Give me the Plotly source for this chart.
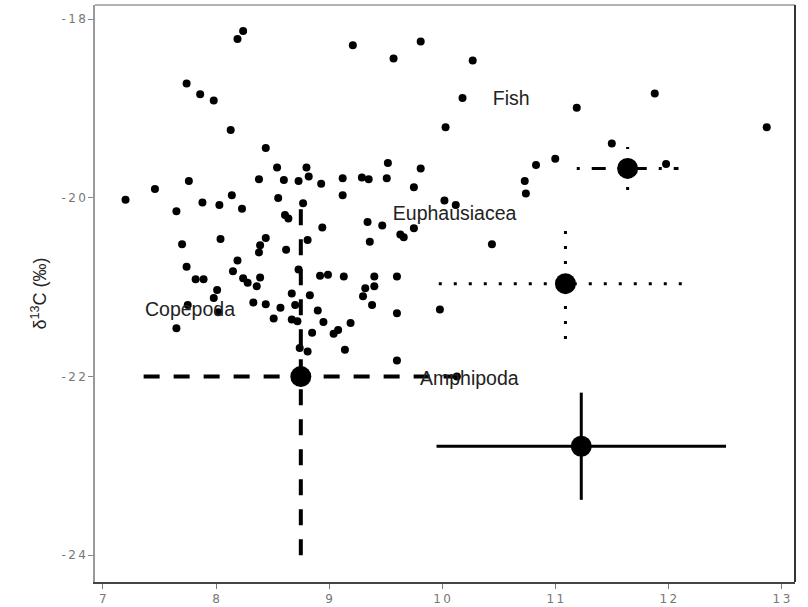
import plotly.graph_objects as go

# individual samples (d15N, d13C)
pts_x = [8.19, 8.24, 9.21, 9.57, 9.81, 10.27, 7.74, 7.86, 7.98, 8.13, 8.44, 10.18, 11.19, 11.88, 12.87,
         10.03, 11.50, 11.00, 10.83, 9.81, 9.75, 10.73, 10.74, 10.02, 10.12, 9.75, 9.63, 9.66, 10.44, 11.98,
         7.20, 7.46, 7.76, 7.65, 7.88, 8.03, 8.14, 8.23, 8.38, 8.54, 8.60, 8.73, 8.80, 8.82, 8.93,
         9.12, 9.12, 9.29, 9.35, 9.51, 9.52, 8.55, 8.77, 8.61, 8.64, 8.94, 9.34, 9.47, 9.36, 7.70,
         8.04, 8.44, 8.39, 8.38, 8.62, 8.81, 8.19, 7.74, 7.82, 7.89, 8.15, 8.24, 8.28, 8.36, 8.39,
         8.01, 7.98, 7.75, 8.02, 7.65, 8.33, 8.44, 8.51, 8.57, 8.67, 8.70, 8.67, 8.72, 8.74, 8.81,
         8.73, 8.92, 8.99, 9.13, 9.40, 9.60, 9.32, 9.40, 9.30, 9.38, 9.60, 9.98, 8.83, 8.90, 8.95,
         9.19, 8.85, 9.04, 9.08, 9.14, 9.60, 10.13]
pts_y = [-18.22, -18.13, -18.29, -18.44, -18.25, -18.46, -18.72, -18.84, -18.91, -19.24, -19.44, -18.88, -18.99, -18.83, -19.21,
         -19.21, -19.39, -19.56, -19.63, -19.67, -19.88, -19.81, -19.95, -20.03, -20.08, -20.34, -20.41, -20.44, -20.52, -19.62,
         -20.02, -19.90, -19.81, -20.15, -20.05, -20.08, -19.97, -20.12, -19.79, -19.66, -19.80, -19.81, -19.66, -19.76, -19.84,
         -19.78, -19.97, -19.77, -19.79, -19.78, -19.61, -20.00, -20.06, -20.19, -20.23, -20.33, -20.27, -20.31, -20.49, -20.52,
         -20.46, -20.45, -20.53, -20.61, -20.58, -20.47, -20.70, -20.77, -20.91, -20.91, -20.82, -20.90, -20.95, -20.99, -20.89,
         -21.03, -21.12, -21.20, -21.28, -21.46, -21.17, -21.19, -21.35, -21.23, -21.07, -21.20, -21.36, -21.38, -21.68, -21.72,
         -20.80, -20.87, -20.86, -20.88, -20.88, -20.88, -21.01, -20.99, -21.10, -21.20, -21.29, -21.25, -21.09, -21.26, -21.39,
         -21.40, -21.51, -21.52, -21.48, -21.70, -21.82, -22.00]

# group means and spreads
mean_x = [11.64, 11.09, 8.75, 11.23]
mean_y = [-19.67, -20.96, -22.00, -22.78]
err_x = [0.45, 1.12, 1.39, 1.28]
err_y = [0.24, 0.62, 2.00, 0.60]
bar_dash = ["3px,12px,14px,12px", "3px,12px", "16px,14px", "solid"]
bar_width = [3, 3, 4, 3]

# group labels
label_text = ["Fish", "Euphausiacea", "Copepoda", "Amphipoda"]
label_x = [10.61, 10.11, 7.77, 10.24]
label_y = [-18.91, -20.19, -21.27, -22.04]

x_ticks = [7, 8, 9, 10, 11, 12, 13]
x_tick_text = ["7", "8", "9", "1\u20090", "1\u20091", "1\u20092", "1\u20093"]
y_ticks = [-18, -20, -22, -24]
y_tick_text = ["-\u20091\u20098", "-\u20092\u20090", "-\u20092\u20092", "-\u20092\u20094"]

fig = go.Figure()

for mx, my, ex, ey, d, w in zip(mean_x, mean_y, err_x, err_y, bar_dash, bar_width):
    fig.add_trace(go.Scatter(
        x=[mx - ex, mx + ex, None, mx, mx],
        y=[my, my, None, my - ey, my + ey],
        mode="lines", line=dict(color="black", width=w, dash=d),
        showlegend=False, hoverinfo="skip"))

fig.add_trace(go.Scatter(x=pts_x, y=pts_y, mode="markers",
                         marker=dict(color="black", size=8),
                         showlegend=False))

fig.add_trace(go.Scatter(x=mean_x, y=mean_y, mode="markers",
                         marker=dict(color="black", size=21),
                         showlegend=False))

fig.add_trace(go.Scatter(x=label_x, y=label_y, mode="text", text=label_text,
                         textfont=dict(family="Liberation Sans, Arial", size=19.5, color="#222"),
                         showlegend=False))

tick_font = dict(family="DejaVu Sans", size=12, color="#777")

fig.update_layout(
    width=808, height=607,
    margin=dict(l=95, r=13, t=5, b=25),
    paper_bgcolor="white", plot_bgcolor="white",
    xaxis=dict(range=[6.93, 13.12], tickvals=x_ticks, ticktext=x_tick_text,
               showgrid=False, zeroline=False, automargin=False,
               showline=True, linecolor="#444", linewidth=2,
               ticks="outside", ticklen=5, tickcolor="#777",
               tickfont=tick_font),
    yaxis=dict(range=[-24.30, -17.84], tickvals=y_ticks, ticktext=y_tick_text,
               showgrid=False, zeroline=False, automargin=False,
               showline=True, linecolor="#999", linewidth=1.5,
               ticks="outside", ticklen=5, tickcolor="#888",
               tickfont=tick_font,
               title=dict(text="δ<sup>13</sup>C (‰)", standoff=10,
                          font=dict(family="Liberation Sans, Arial", size=18, color="#222"))),
    shapes=[
        dict(type="line", xref="paper", yref="paper", x0=0, x1=1, y0=1, y1=1,
             line=dict(color="#999", width=1.5)),
        dict(type="line", xref="paper", yref="paper", x0=1, x1=1, y0=0, y1=1,
             line=dict(color="#333", width=2)),
    ],
)

fig.write_html("out.html", config={"displayModeBar": False},
               post_script="document.body.style.margin='0px';")
